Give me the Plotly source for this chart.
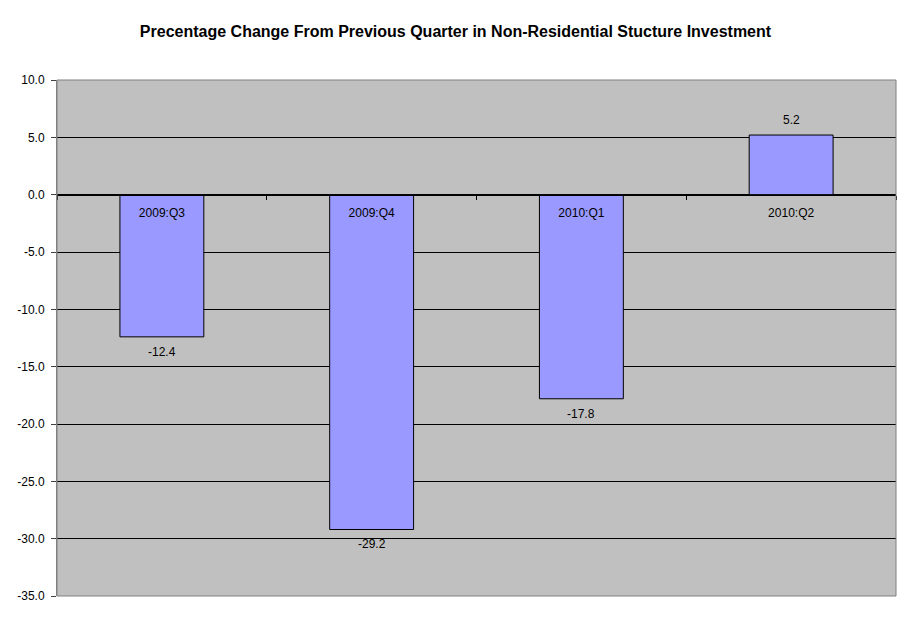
import plotly.graph_objects as go

categories = ["2009:Q3", "2009:Q4", "2010:Q1", "2010:Q2"]
values = [-12.4, -29.2, -17.8, 5.2]
y_ticks = [10, 5, 0, -5, -10, -15, -20, -25, -30, -35]
y_min, y_max = -35, 10

FONT = "Liberation Sans, Arial"

fig = go.Figure()
fig.add_trace(go.Bar(
    x=categories, y=values,
    marker=dict(color="#9999FF", line=dict(color="#000000", width=1)),
    width=0.4,
))

for c, v in zip(categories, values):
    fig.add_annotation(
        x=c, y=v, xref="x", yref="y", text=f"{v:.1f}", showarrow=False,
        yanchor="bottom" if v >= 0 else "top",
        yshift=6 if v >= 0 else -6,
        font=dict(family=FONT, size=12, color="#000000"),
    )

zero_pos = (0 - y_min) / (y_max - y_min)

# Page body has an 8px margin, so the figure is sized to fit the window.
W, H = 903, 613
fig.update_layout(
    width=W, height=H,
    margin=dict(l=49, r=15, t=72, b=25),
    paper_bgcolor="#FFFFFF",
    plot_bgcolor="#C0C0C0",
    showlegend=False,
    title=dict(
        text="<b>Precentage Change From Previous Quarter in Non-Residential Stucture Investment</b>",
        x=(455.5 - 8) / W, xanchor="center", xref="container",
        y=1 - 23 / H, yanchor="middle",
        font=dict(family=FONT, size=16, color="#000000"),
    ),
    font=dict(family=FONT, size=12, color="#000000"),
    xaxis=dict(
        anchor="free", position=zero_pos, automargin=False,
        showline=True, linecolor="#000000", linewidth=1,
        ticks="outside", ticklen=4, tickcolor="#000000", tickson="boundaries",
        ticklabelstandoff=7,
        showgrid=False, zeroline=False,
        tickfont=dict(family=FONT, size=12, color="#000000"),
    ),
    yaxis=dict(
        range=[y_min, y_max], tickvals=y_ticks, automargin=False,
        ticktext=[f"{t:.1f}" for t in y_ticks],
        showgrid=True, gridcolor="#000000", gridwidth=1,
        zeroline=False,
        showline=True, linecolor="#808080", linewidth=1,
        ticks="outside", ticklen=5, tickcolor="#404040",
        ticklabelstandoff=4,
        tickfont=dict(family=FONT, size=12, color="#000000"),
    ),
)
fig.add_shape(type="rect", xref="paper", yref="paper", x0=0, x1=1, y0=0, y1=1,
              line=dict(color="#808080", width=1), layer="above")

fig.write_html("out.html")
